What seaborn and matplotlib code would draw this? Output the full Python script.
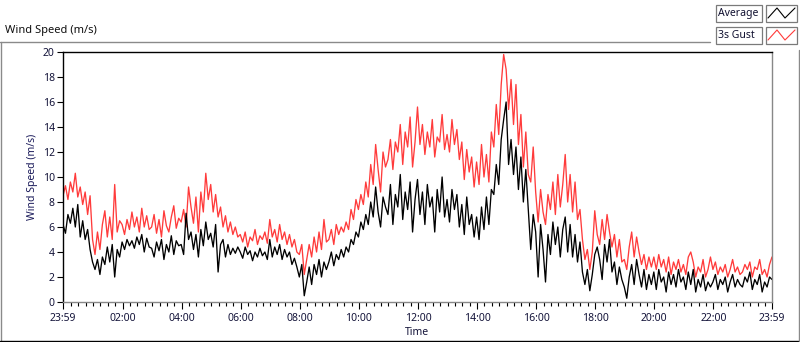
import numpy as np
import pandas as pd
import matplotlib
matplotlib.use("Agg")
import matplotlib.pyplot as plt
import seaborn as sns
from matplotlib.patches import Rectangle
from matplotlib.lines import Line2D
from matplotlib.ticker import FixedLocator

# ---- data (5-minute readings from 23:59 to 23:59, m/s) ----
avg_speed = [
    6.2, 5.5, 7.0, 6.3, 7.5, 6.0, 7.8, 5.2, 6.5, 5.0, 5.8, 4.2,
    3.2, 2.6, 3.4, 2.2, 3.6, 3.0, 4.4, 3.2, 4.6, 2.0, 4.2, 3.6,
    4.8, 4.2, 5.0, 4.5, 4.9, 4.3, 5.2, 4.6, 5.4, 4.0, 5.1, 4.4,
    4.3, 3.6, 4.8, 4.1, 5.0, 3.4, 4.6, 4.0, 5.3, 3.8, 4.9, 4.5,
    4.6, 3.8, 7.1, 5.0, 5.6, 4.2, 5.4, 3.6, 5.8, 4.5, 6.4, 5.0,
    5.5, 4.4, 6.2, 2.4, 4.6, 5.0, 3.6, 4.6, 3.8, 4.3, 3.9, 4.4,
    4.0, 3.5, 4.4, 3.8, 4.1, 3.3, 4.0, 3.6, 4.3, 3.7, 4.0, 3.4,
    5.0, 3.6, 4.4, 3.8, 4.6, 3.4, 4.2, 3.6, 4.0, 3.0, 3.5, 2.8,
    2.0, 3.0, 0.5, 1.6, 2.8, 1.4, 3.0, 2.2, 3.4, 2.0, 3.2, 2.6,
    3.2, 4.0, 2.9, 3.8, 3.4, 4.2, 3.6, 4.4, 4.0, 5.0, 4.6, 5.6,
    5.2, 6.4, 5.8, 7.0, 6.2, 8.0, 6.8, 9.2, 7.2, 6.0, 8.4, 7.6,
    7.0, 9.4, 6.2, 8.6, 7.6, 10.2, 6.6, 8.8, 7.4, 9.6, 5.6, 8.2,
    9.8, 7.0, 8.8, 6.2, 9.4, 7.6, 8.4, 5.6, 9.0, 7.2, 10.0, 6.8,
    8.2, 6.4, 9.0, 7.4, 8.6, 6.0, 7.8, 5.4, 8.4, 6.2, 7.0, 5.2,
    6.8, 5.0, 7.6, 5.8, 8.4, 6.2, 9.0, 8.6, 11.0, 9.4, 13.0, 14.6,
    16.0, 11.0, 13.0, 10.2, 12.4, 9.0, 11.6, 8.0, 10.6, 7.4, 4.2, 7.0,
    5.6, 2.0, 6.2, 4.2, 1.6, 5.4, 3.8, 6.4, 4.6, 6.0, 3.6, 5.8,
    6.8, 4.0, 6.2, 3.6, 5.4, 3.2, 4.8, 2.4, 1.4, 2.6, 0.9, 2.2,
    3.8, 4.4, 3.4, 1.8, 4.6, 3.2, 5.0, 2.4, 3.2, 1.4, 2.8, 1.8,
    1.2, 0.3, 2.0, 3.0, 1.4, 3.4, 2.2, 1.2, 2.6, 1.0, 2.2, 1.4,
    2.4, 1.0, 2.6, 1.6, 2.0, 0.8, 2.4, 1.4, 2.2, 1.2, 2.6, 1.6,
    2.0, 1.0, 2.4, 1.4, 2.6, 0.8, 1.8, 1.2, 2.2, 0.9, 1.6, 1.2,
    1.6, 2.2, 1.0, 1.8, 1.4, 2.0, 0.8, 1.6, 2.2, 1.2, 1.8, 1.4,
    1.2, 2.0, 1.6, 2.4, 1.0, 1.8, 1.4, 2.2, 0.8, 1.6, 1.2, 2.0, 1.8,
]
gust_speed = [
    8.5, 9.3, 8.2, 9.6, 8.8, 10.3, 8.4, 9.2, 7.8, 8.8, 7.0, 8.5,
    5.0, 3.8, 5.6, 4.2, 6.2, 7.3, 5.2, 6.8, 5.0, 9.4, 5.6, 6.5,
    6.2, 5.4, 6.6, 5.8, 7.2, 6.0, 6.8, 5.6, 7.5, 6.0, 6.9, 5.8,
    6.0, 7.0, 5.5, 6.6, 5.2, 7.3, 6.1, 5.6, 6.8, 7.7, 5.9, 6.7,
    6.4, 7.4, 6.0, 9.2, 7.6, 6.3, 8.4, 5.6, 8.8, 7.2, 10.3, 8.2,
    9.4, 7.2, 8.6, 6.8, 7.6, 6.0, 6.9, 5.6, 6.4, 5.4, 6.0, 5.2,
    5.4, 4.8, 5.6, 4.4, 5.2, 4.9, 5.8, 4.6, 5.3, 5.0, 5.6, 4.7,
    6.6, 5.2, 5.8, 4.8, 6.2, 5.0, 5.6, 4.6, 5.4, 4.4, 5.0, 4.0,
    3.8, 4.6, 2.2, 3.4, 4.6, 3.6, 5.2, 4.0, 5.6, 4.2, 6.6, 4.8,
    5.0, 5.8, 4.6, 6.2, 5.4, 6.0, 5.6, 6.4, 5.8, 7.4, 6.6, 8.2,
    7.4, 8.6, 7.8, 9.6, 8.4, 11.0, 9.4, 12.6, 10.6, 8.8, 12.0, 10.8,
    11.4, 13.0, 10.6, 12.8, 12.0, 14.2, 11.0, 13.6, 12.4, 14.8, 10.8, 12.8,
    15.6, 12.6, 14.2, 11.8, 13.6, 12.4, 14.6, 11.6, 13.2, 12.8, 15.0, 12.2,
    13.4, 12.0, 14.6, 12.6, 13.8, 11.4, 12.8, 9.8, 12.2, 10.4, 11.6, 9.2,
    11.2, 9.4, 12.6, 10.0, 11.8, 9.6, 13.6, 12.4, 15.8, 13.4, 17.4, 19.8,
    18.6, 15.4, 17.8, 14.2, 17.4, 12.6, 15.0, 10.8, 13.6, 10.2, 9.6, 12.4,
    8.8, 6.4, 9.0, 7.2, 6.2, 8.6, 7.4, 9.6, 7.0, 10.2, 7.6, 9.4,
    11.8, 8.0, 10.2, 7.2, 9.6, 6.6, 7.4, 5.0, 3.4, 4.2, 2.6, 4.0,
    7.3, 5.4, 4.6, 6.6, 5.0, 7.0, 5.6, 4.4, 5.4, 3.6, 5.0, 3.2,
    3.4, 2.6, 4.4, 5.6, 3.6, 5.2, 4.0, 3.0, 3.8, 2.6, 3.6, 2.8,
    3.6, 2.6, 3.8, 2.8, 3.4, 2.4, 3.6, 2.2, 3.2, 2.6, 3.4, 2.4,
    3.0, 2.2, 3.6, 4.0, 3.2, 2.0, 2.8, 2.4, 3.4, 2.0, 2.6, 3.6,
    2.6, 3.2, 2.2, 2.8, 2.4, 3.0, 2.0, 2.6, 3.4, 2.4, 2.8, 2.2,
    2.4, 3.0, 2.6, 3.2, 2.0, 2.8, 2.6, 3.4, 2.2, 2.6, 2.0, 3.0, 3.6,
]
tick_labels = ["23:59", "02:00", "04:00", "06:00", "08:00", "10:00", "12:00",
               "14:00", "16:00", "18:00", "20:00", "22:00", "23:59"]
tick_minutes = [0, 121, 241, 361, 481, 601, 721, 841, 961, 1081, 1201, 1321, 1440]
series_names = ["Average", "3s Gust"]

minutes = np.arange(len(avg_speed)) * 5
df = pd.DataFrame({"minute": minutes, "avg": avg_speed, "gust": gust_speed})

sns.set_style("white")
plt.rcParams["font.family"] = ["Noto Sans", "DejaVu Sans"]

W, H = 800, 342
fig = plt.figure(figsize=(W / 100, H / 100), dpi=100)
fig.patch.set_facecolor("white")

def fx(x):
    return x / W

def fy(y):
    return 1 - y / H

ax = fig.add_axes([fx(63), fy(302), (772 - 63) / W, (302 - 52) / H])

RED = "#ff3b3b"
sns.lineplot(data=df, x="minute", y="gust", ax=ax, color=RED, lw=0.95, estimator=None)
sns.lineplot(data=df, x="minute", y="avg", ax=ax, color="black", lw=0.95, estimator=None)

ax.set_xlim(0, 1440)
ax.set_ylim(0, 20)
ax.set_yticks(np.arange(0, 21, 2))
ax.set_xticks(tick_minutes)
ax.set_xticklabels(tick_labels)
ax.xaxis.set_minor_locator(FixedLocator([m for m in range(1, 1440, 15) if (m - 1) % 120 != 0]))

lab_col = "#14143a"
ax.tick_params(axis="y", which="major", length=4, width=0.8, direction="out", pad=2,
               labelsize=7.5, labelcolor=lab_col, color="black", left=True)
ax.tick_params(axis="x", which="major", length=5, width=0.8, direction="out", pad=3,
               labelsize=7.5, labelcolor=lab_col, color="black", bottom=True)
ax.tick_params(axis="x", which="minor", length=3, width=0.8, direction="out", color="black", bottom=True)

for side, col in [("top", "black"), ("left", "black"), ("right", "#888888"), ("bottom", "#888888")]:
    ax.spines[side].set_visible(True)
    ax.spines[side].set_color(col)
    ax.spines[side].set_linewidth(1.0)

ax.set_ylabel("Wind Speed (m/s)", fontsize=7.5, color="#1a1a5a", labelpad=3)
ax.set_xlabel("Time", fontsize=7.5, color=lab_col, labelpad=2)

# outer chart frame
def fline(x0, y0, x1, y1, col, lw=1.0):
    fig.add_artist(Line2D([fx(x0), fx(x1)], [fy(y0), fy(y1)], transform=fig.transFigure,
                          color=col, lw=lw))

fline(0, 42, 710, 42, "#8a8a8a")
fline(0.5, 42, 0.5, 341, "#8a8a8a")
fline(0, 341, 800, 341, "black")
fline(799, 50, 799, 341, "#8a8a8a")

fig.text(fx(5), fy(31), "Wind Speed (m/s)", fontsize=8, color="#101010", ha="left", va="center")

# legend
line_cols = ["black", RED]
for i, (name, col) in enumerate(zip(series_names, line_cols)):
    top = 5 + 22 * i
    fig.add_artist(Rectangle((fx(716), fy(top + 17)), 46 / W, 17 / H, transform=fig.transFigure,
                             facecolor="white", edgecolor="#7a7a7a", lw=0.9))
    fig.add_artist(Rectangle((fx(766), fy(top + 17)), 31 / W, 17 / H, transform=fig.transFigure,
                             facecolor="white", edgecolor="#7a7a7a", lw=0.9))
    fig.text(fx(718), fy(top + 8.5), name, fontsize=7.5, color="#101030", ha="left", va="center")
    xs = [768, 777, 785, 795]
    ys = [top + 13, top + 3, top + 13, top + 3]
    fig.add_artist(Line2D([fx(v) for v in xs], [fy(v) for v in ys], transform=fig.transFigure,
                          color=col, lw=0.8))

fig.savefig("out.png", dpi=100, facecolor="white")
